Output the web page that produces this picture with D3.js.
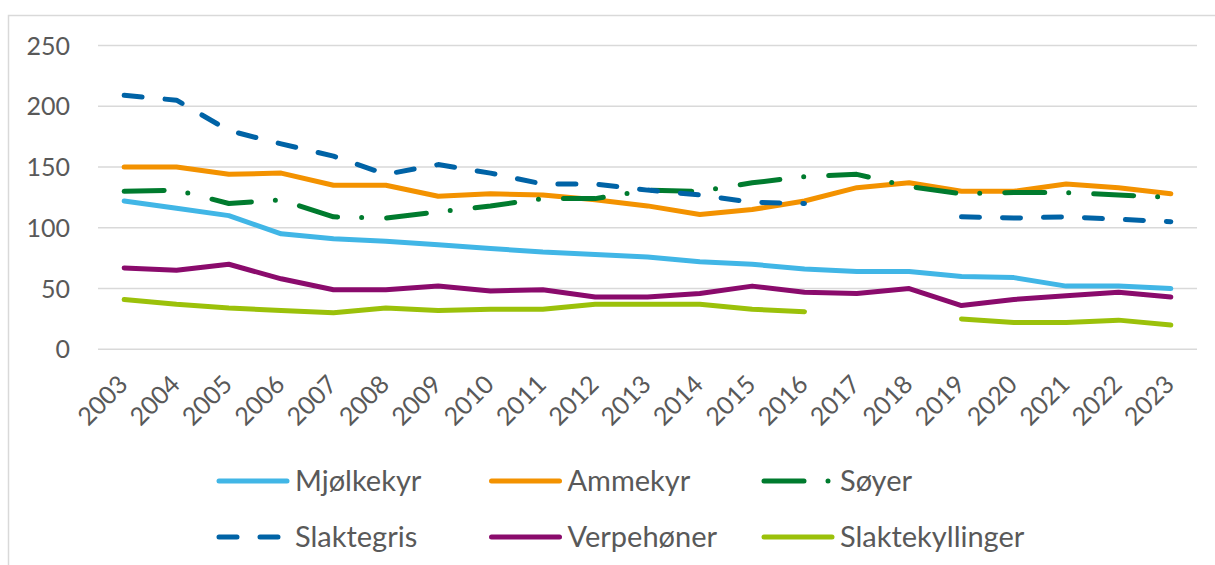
<!DOCTYPE html>
<html>
<head>
<meta charset="utf-8">
<script src="https://cdn.jsdelivr.net/npm/d3@7"></script>
<style>
  body { margin: 0; background: #fff; }
  text { font-family: Lato, "Open Sans", sans-serif; fill: #595959; }
</style>
</head>
<body>
<div id="chart"></div>
<script>
// data
const years = d3.range(2003, 2024).map(String);
const yTicks = [0, 50, 100, 150, 200, 250];

const mjolkekyr = [122,116,110,95,91,89,86,83,80,78,76,72,70,66,64,64,60,59,52,52,50];
const ammekyr = [150,150,144,145,135,135,126,128,127,123,118,111,115,122,133,137,130,130,136,133,128];
const soyer = [130,131,120,123,109,108,113,118,124,124,131,130,137,142,144,134,128,129,129,127,125];
const slaktegris = [209,205,180,169,159,144,152,145,136,136,131,127,121,120,null,null,109,108,109,107,105];
const verpehoner = [67,65,70,58,49,49,52,48,49,43,43,46,52,47,46,50,36,41,44,47,43];
const slaktekyllinger = [41,37,34,32,30,34,32,33,33,37,37,37,33,31,null,null,25,22,22,24,20];

const series = [
    { name: "Mjølkekyr", values: mjolkekyr, color: "#41b6e6", dash: null },
    { name: "Ammekyr", values: ammekyr, color: "#f39200", dash: null },
    { name: "Søyer", values: soyer, color: "#007b2e", dash: "40,24,0,25" },
    { name: "Slaktegris", values: slaktegris, color: "#0063a6", dash: "18,23" },
    { name: "Verpehøner", values: verpehoner, color: "#8a0b6c", dash: null },
    { name: "Slaktekyllinger", values: slaktekyllinger, color: "#9bc10a", dash: null }
];

const W = 1215, H = 565;
const plot = { left: 98, right: 1197, top: 45.5, bottom: 349.3 };

const svg = d3.select("#chart")
    .append("svg")
    .attr("width", W)
    .attr("height", H);

// chart border
svg.append("rect")
    .attr("x", 8.5).attr("y", 15.5)
    .attr("width", 1230).attr("height", 580)
    .attr("fill", "none")
    .attr("stroke", "#d9d9d9")
    .attr("stroke-width", 1.5);

const x = d3.scaleBand()
    .domain(years)
    .range([plot.left, plot.right]);

const y = d3.scaleLinear()
    .domain([0, 250])
    .range([plot.bottom, plot.top]);

// gridlines
svg.append("g")
    .selectAll("line")
    .data(yTicks)
    .enter()
    .append("line")
    .attr("x1", plot.left)
    .attr("x2", plot.right)
    .attr("y1", d => y(d))
    .attr("y2", d => y(d))
    .attr("stroke", "#d9d9d9")
    .attr("stroke-width", 1.5);

// y axis labels
svg.append("g")
    .selectAll("text")
    .data(yTicks)
    .enter()
    .append("text")
    .attr("x", 70)
    .attr("y", d => y(d))
    .attr("dy", "0.36em")
    .attr("text-anchor", "end")
    .style("font-size", "25px")
    .text(d => d);

// x axis labels, rotated
svg.append("g")
    .selectAll("text")
    .data(years)
    .enter()
    .append("text")
    .attr("transform", d => `translate(${x(d) + x.bandwidth() / 2 + 5},386) rotate(-45)`)
    .attr("text-anchor", "end")
    .style("font-size", "25px")
    .text(d => d);

const line = d3.line()
    .x(d => x(d.year) + x.bandwidth() / 2)
    .y(d => y(d.value));

// split each series into runs without gaps, so dash patterns restart like the original
function segments(values) {
    const runs = [];
    let cur = [];
    values.forEach((v, i) => {
        if (v == null) {
            if (cur.length) runs.push(cur);
            cur = [];
        } else {
            cur.push({ year: years[i], value: v });
        }
    });
    if (cur.length) runs.push(cur);
    return runs;
}

series.forEach(s => {
    segments(s.values).forEach(run => {
        svg.append("path")
            .datum(run)
            .attr("d", line)
            .attr("fill", "none")
            .attr("stroke", s.color)
            .attr("stroke-width", 5)
            .attr("stroke-linejoin", "round")
            .attr("stroke-linecap", "round")
            .attr("stroke-dasharray", s.dash);
    });
});

// legend
const legendCols = [219, 491.5, 764];
const legendRows = [481, 537];

const legend = svg.append("g")
    .selectAll("g")
    .data(series)
    .enter()
    .append("g")
    .attr("transform", (d, i) => `translate(${legendCols[i % 3]},${legendRows[Math.floor(i / 3)]})`);

legend.append("line")
    .attr("x1", 0)
    .attr("x2", 68)
    .attr("stroke", d => d.color)
    .attr("stroke-width", 5)
    .attr("stroke-linecap", "round")
    .attr("stroke-dasharray", d => d.dash);

legend.append("text")
    .attr("x", 76)
    .attr("dy", "0.36em")
    .style("font-size", "29px")
    .text(d => d.name);
</script>
</body>
</html>
